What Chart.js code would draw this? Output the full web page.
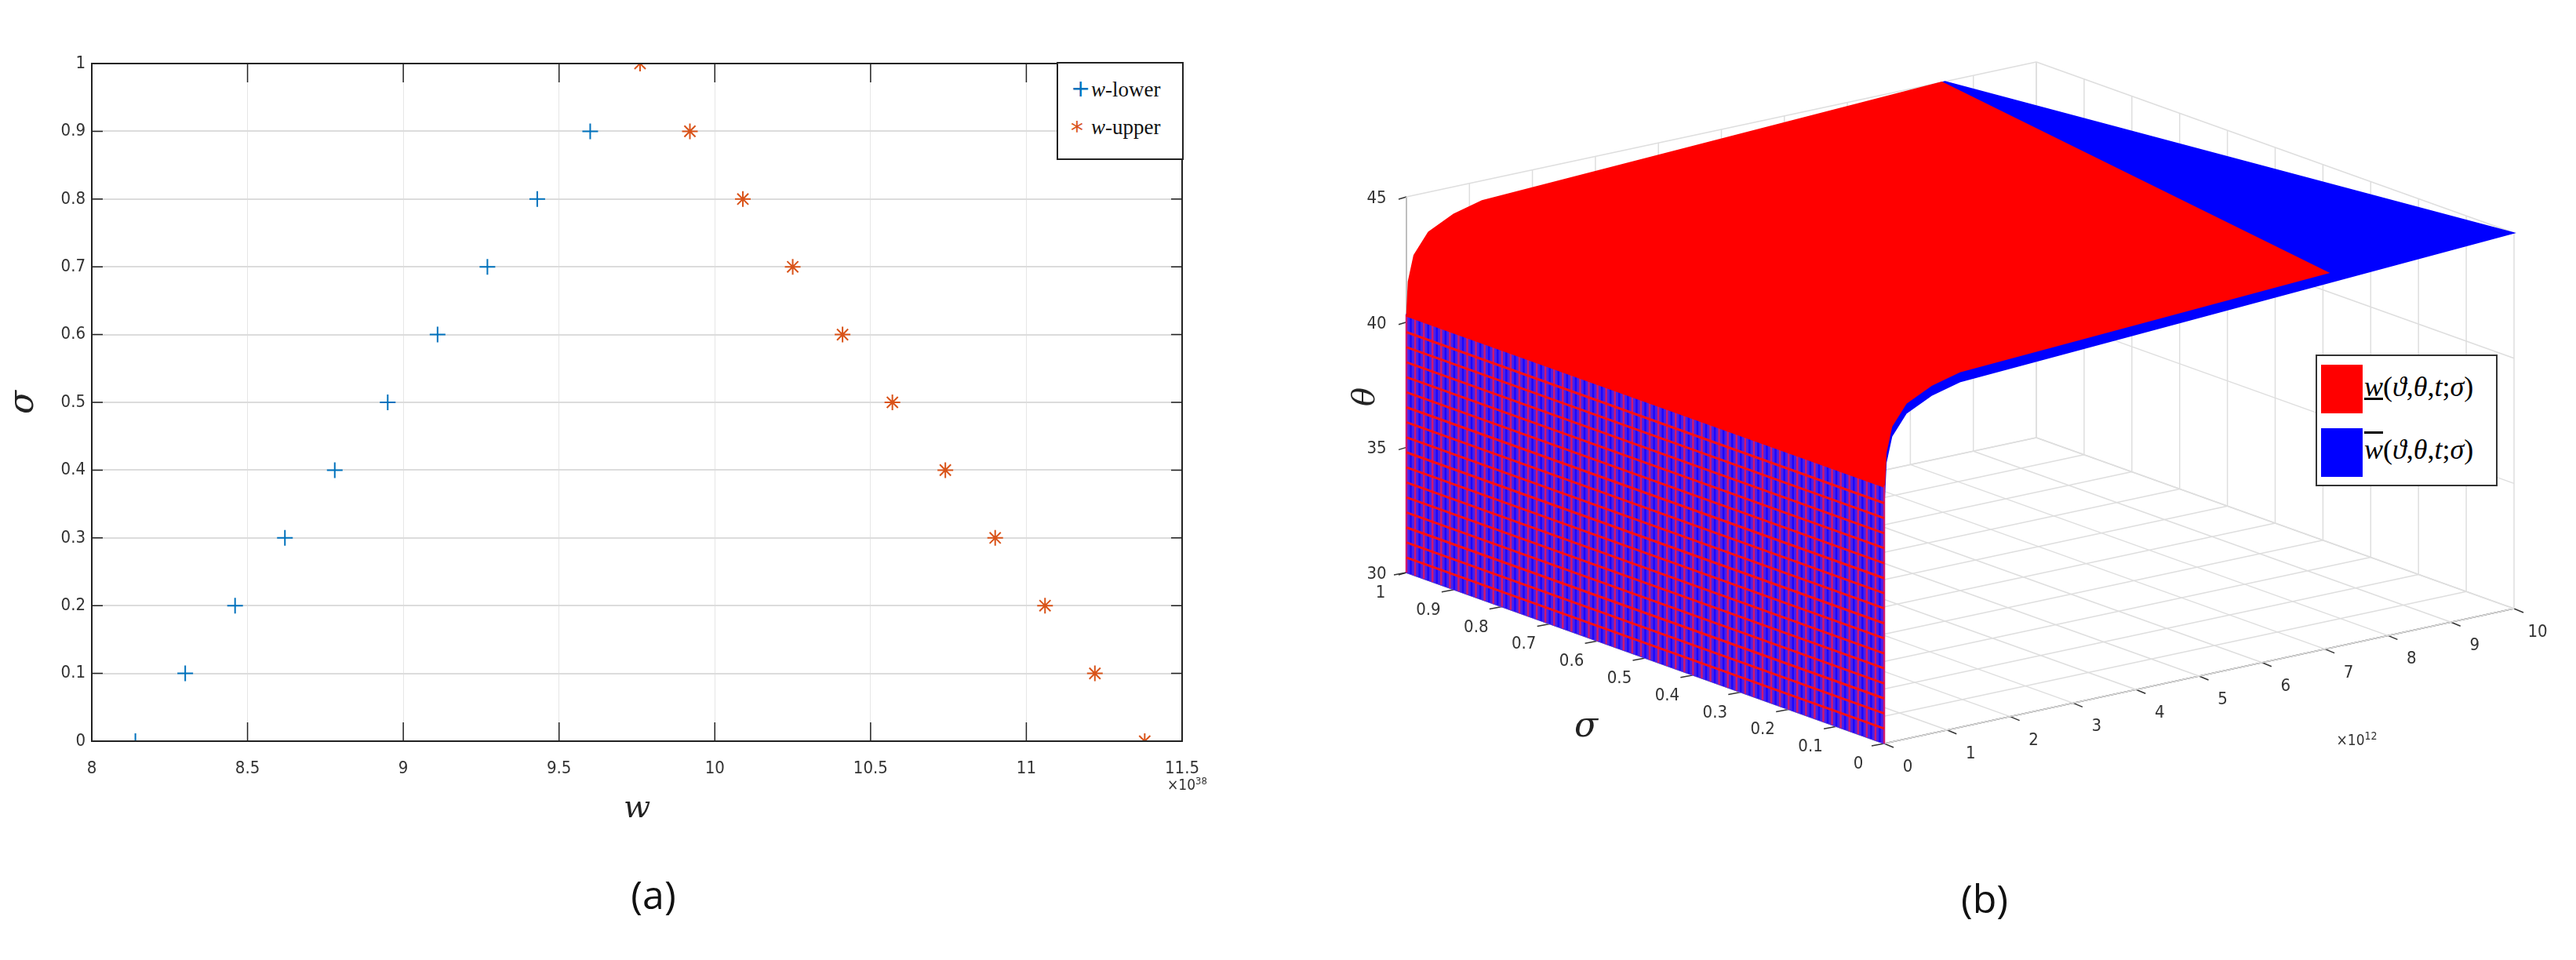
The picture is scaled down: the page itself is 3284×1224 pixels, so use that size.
<!DOCTYPE html>
<html><head><meta charset="utf-8">
<script src="https://cdn.jsdelivr.net/npm/chart.js@4.4.0/dist/chart.umd.min.js"></script>
<style>
html,body{margin:0;padding:0;background:#fff;width:3284px;height:1224px;overflow:hidden;position:relative;font-family:"Liberation Sans Narrow","DejaVu Sans Condensed",sans-serif}
#wa{position:absolute;left:0;top:0;width:1600px;height:1060px}
#wb{position:absolute;left:1700px;top:0;width:1584px;height:1224px}
.lbl{position:absolute;white-space:nowrap}
.m{font-family:"DejaVu Serif","Liberation Serif",serif;font-style:italic}
.cap{position:absolute;font-family:"Open Sans","Noto Sans",sans-serif;font-size:50px;color:#111;transform:translate(-50%,-50%)}
.tk{position:absolute;font-size:22px;color:#333;transform:translate(-50%,-50%);font-family:"Liberation Sans Narrow","DejaVu Sans Condensed",sans-serif}
</style></head><body>
<div id="wa"><canvas id="ca"></canvas></div>
<div id="wb"><canvas id="cb"></canvas></div>
<div class="cap" style="left:833px;top:1140px">(a)</div>
<div class="cap" style="left:2530px;top:1145px">(b)</div>
<div class="lbl" style="left:1488px;top:988px;font-size:19px;color:#333">×10<sup style="font-size:13px">38</sup></div>
<div class="lbl" style="left:1347px;top:79px;width:158px;height:121px;border:2px solid #222;background:#fff;font-family:'Liberation Serif',serif;font-size:27px;color:#111">
 <div style="position:absolute;left:16px;top:14px;color:#0072BD;font-size:30px;font-family:'DejaVu Sans'">+</div>
 <div style="position:absolute;left:42px;top:18px"><span class="m" style="font-family:'Liberation Serif'">w</span>-lower</div>
 <div style="position:absolute;left:16px;top:66px;color:#D95319;font-size:32px;font-family:'DejaVu Sans'">*</div>
 <div style="position:absolute;left:42px;top:66px"><span class="m" style="font-family:'Liberation Serif'">w</span>-upper</div>
</div>
<div class="lbl" style="left:2952px;top:452px;width:228px;height:164px;border:2px solid #333;background:#fff">
 <div style="position:absolute;left:5px;top:11px;width:53px;height:62px;background:#ff0000"></div>
 <div style="position:absolute;left:5px;top:92px;width:53px;height:62px;background:#0000ff"></div>
 <div class="m" style="position:absolute;left:60px;top:18px;font-size:36px;font-family:'Liberation Serif',serif"><span style="text-decoration:underline">w</span><span style="font-style:normal">(</span>ϑ<span style="font-style:normal">,</span>θ<span style="font-style:normal">,</span>t<span style="font-style:normal">;</span>σ<span style="font-style:normal">)</span></div>
 <div class="m" style="position:absolute;left:60px;top:98px;font-size:36px;font-family:'Liberation Serif',serif"><span style="text-decoration:overline">w</span><span style="font-style:normal">(</span>ϑ<span style="font-style:normal">,</span>θ<span style="font-style:normal">,</span>t<span style="font-style:normal">;</span>σ<span style="font-style:normal">)</span></div>
</div>
<script>
// ---- panel (a) data ----
const sigmaLower = [0,0.1,0.2,0.3,0.4,0.5,0.6,0.7,0.8,0.9];
const wLower = [8.14,8.30,8.46,8.62,8.78,8.95,9.11,9.27,9.43,9.60];
const sigmaUpper = [1,0.9,0.8,0.7,0.6,0.5,0.4,0.3,0.2,0.1,0];
const wUpper = [9.76,9.92,10.09,10.25,10.41,10.57,10.74,10.90,11.06,11.22,11.38];
const xTicksA = [8,8.5,9,9.5,10,10.5,11,11.5];
const yTicksA = [0,0.1,0.2,0.3,0.4,0.5,0.6,0.7,0.8,0.9,1];
// ---- panel (b) data ----
const thetaTicks = [30,35,40,45];
const sigmaTicks = [0,0.1,0.2,0.3,0.4,0.5,0.6,0.7,0.8,0.9,1];
const tTicks = [0,1,2,3,4,5,6,7,8,9,10];
const profT = [0,0.03,0.12,0.35,0.75,1.2];
const profTheta = [40,41.6,42.6,43.4,43.9,44.2];
const topTheta = 45;
const redEnd = {s1:8.5, s0:7.05};
const blueEnd = {s1:8.55, s0:10};
const wallTop = 40;
const wallLevels = [30.6,31.2,31.8,32.4,33.0,33.6,34.2,34.8,35.4,36.0,36.6,37.2,37.8,38.4,39.0,39.6];

Chart.defaults.animation = false;
const tickFont = {family:"'Liberation Sans Narrow','DejaVu Sans Condensed',sans-serif", size:22};

new Chart(document.getElementById('ca'), {
  type:'scatter',
  data:{datasets:[
    {label:'w-lower', data:wLower.map((w,i)=>({x:w,y:sigmaLower[i]})), pointStyle:'cross', radius:10, borderColor:'#0072BD', borderWidth:2},
    {label:'w-upper', data:wUpper.map((w,i)=>({x:w,y:sigmaUpper[i]})), pointStyle:'star', radius:10, borderColor:'#D95319', borderWidth:2}
  ]},
  options:{responsive:true, maintainAspectRatio:false,
    layout:{padding:{left:0,right:93,top:81,bottom:0}},
    plugins:{legend:{display:false}, tooltip:{enabled:false}},
    scales:{
      x:{type:'linear', min:8, max:11.5, afterBuildTicks:s=>{s.ticks=xTicksA.map(v=>({value:v}))},
        afterFit:s=>{s.height=115},
        grid:{color:'#e6e6e6', drawTicks:false, lineWidth:1}, border:{color:'#222', width:2},
        ticks:{padding:22, color:'#333', font:tickFont, callback:v=>String(v)},
        title:{display:true, text:'w', color:'#222', font:{family:"'DejaVu Serif',serif", style:'italic', size:40}, padding:{top:0}}},
      y:{type:'linear', min:0, max:1, afterBuildTicks:s=>{s.ticks=yTicksA.map(v=>({value:v}))},
        afterFit:s=>{s.width=117},
        grid:{color:'#dcdcdc', drawTicks:false, lineWidth:2}, border:{color:'#222', width:2},
        ticks:{padding:8, color:'#333', font:tickFont, callback:v=>String(v)},
        title:{display:true, text:'σ', color:'#222', font:{family:"'DejaVu Serif',serif", style:'italic', size:44}}}
    }
  },
  plugins:[{id:'frame', afterDraw(c){const a=c.chartArea,x=c.ctx;x.save();x.strokeStyle='#222';x.lineWidth=2;x.strokeRect(a.left,a.top,a.right-a.left,a.bottom-a.top);
    x.lineWidth=1.5;const xs=c.scales.x,ys=c.scales.y;
    xTicksA.forEach(v=>{const p=xs.getPixelForValue(v);x.beginPath();x.moveTo(p,a.bottom);x.lineTo(p,a.bottom-24);x.moveTo(p,a.top);x.lineTo(p,a.top+24);x.stroke();});
    yTicksA.forEach(v=>{const p=ys.getPixelForValue(v);x.beginPath();x.moveTo(a.left,p);x.lineTo(a.left+14,p);x.moveTo(a.right,p);x.lineTo(a.right-14,p);x.stroke();});
    x.restore();}}]
});

// ---- panel (b): projected 3D ----
const O={x:1793,y:730}, SX=609, SY=218, TX=80.3, TY=-17.2, ZY=-31.93, OFFX=1700;
function P(s,t,th){return {x:O.x-OFFX+(1-s)*SX+t*TX, y:O.y+(1-s)*SY+t*TY+(th-30)*ZY};}
const ds=[];
function seg(pts,color,w){ds.push({data:pts,showLine:true,borderColor:color,borderWidth:w,pointRadius:0,fill:false});}
const g='#dedede';
tTicks.forEach(t=>seg([P(0,t,30),P(1,t,30)],g,1.5));
sigmaTicks.forEach(s=>seg([P(s,0,30),P(s,10,30)],g,1.5));
tTicks.forEach(t=>seg([P(1,t,30),P(1,t,45)],g,1.5));
thetaTicks.forEach(th=>seg([P(1,0,th),P(1,10,th)],g,1.5));
sigmaTicks.forEach(s=>seg([P(s,10,30),P(s,10,45)],g,1.5));
thetaTicks.forEach(th=>seg([P(0,10,th),P(1,10,th)],g,1.5));
const ax='#333';
seg([P(1,0,30),P(1,0,45)],ax,1.5);
seg([P(1,0,30),P(0,0,30)],ax,1.5);
seg([P(0,0,30),P(0,10,30)],ax,1.5);
thetaTicks.forEach(th=>{const p=P(1,0,th);seg([p,{x:p.x-10,y:p.y+3}],ax,1.5);});
sigmaTicks.forEach(s=>{const p=P(s,0,30);seg([p,{x:p.x-16,y:p.y+3}],ax,1.5);});
tTicks.forEach(t=>{const p=P(0,t,30);seg([p,{x:p.x+12,y:p.y+5}],ax,1.5);});

// surfaces as polygon list (drawn in order through the chart scales)
const shapes=[];
function surf(endS1,endS0,color,drop){
  const a=[],b=[];
  profT.forEach((t,i)=>a.push(P(1,t,profTheta[i]-drop)));
  a.push(P(1,endS1,topTheta));
  b.push(P(0,endS0,topTheta));
  for(let i=profT.length-1;i>=0;i--) b.push(P(0,profT[i],profTheta[i]-drop));
  shapes.push({type:'poly',pts:a.concat(b),color});
}
surf(blueEnd.s1,blueEnd.s0,'#0000ff',0.4);
surf(redEnd.s1,redEnd.s0,'#ff0000',0);
shapes.push({type:'poly',pts:[P(1,0,30),P(0,0,30),P(0,0,wallTop+0.3),P(1,0,wallTop+0.3)],color:'#4a22e8'});
for(let k=0;k<=110;k++){const s=k/110;shapes.push({type:'line',pts:[P(s,0,30),P(s,0,wallTop+0.3)],color:k%2?'#1a08ff':'#d01870',w:2.5});}
wallLevels.forEach(th=>shapes.push({type:'line',pts:[P(1,0,th),P(0,0,th)],color:'#ff1010',w:3}));
shapes.push({type:'line',pts:[P(1,0,wallTop+0.3),P(0,0,wallTop+0.3)],color:'#ff0000',w:5});

new Chart(document.getElementById('cb'), {
  type:'scatter', data:{datasets:ds},
  options:{responsive:true, maintainAspectRatio:false, layout:{padding:0},
    plugins:{legend:{display:false}, tooltip:{enabled:false}},
    scales:{x:{type:'linear',min:0,max:1584,display:false},y:{type:'linear',min:0,max:1224,reverse:true,display:false}}},
  plugins:[{id:'surfaces', afterDatasetsDraw(c){
    const xs=c.scales.x, ys=c.scales.y, x=c.ctx; x.save();
    shapes.forEach(sh=>{x.beginPath();sh.pts.forEach((p,i)=>{const px=xs.getPixelForValue(p.x),py=ys.getPixelForValue(p.y);i?x.lineTo(px,py):x.moveTo(px,py);});
      if(sh.type==='poly'){x.closePath();x.fillStyle=sh.color;x.fill();x.strokeStyle=sh.color;x.lineWidth=1.5;x.stroke();}
      else{x.strokeStyle=sh.color;x.lineWidth=sh.w;x.stroke();}});
    x.restore();
  }, afterRender(c){
    if(c._lbl) return; c._lbl=true;
    const xs=c.scales.x, ys=c.scales.y, host=document.body;
    function put(txt,p,dx,dy,cls,style){const d=document.createElement('div');d.className=cls||'tk';d.innerHTML=txt;
      d.style.left=(OFFX+xs.getPixelForValue(p.x)+dx)+'px';d.style.top=(ys.getPixelForValue(p.y)+dy)+'px';if(style)d.style.cssText+=style;host.appendChild(d);}
    thetaTicks.forEach(th=>put(String(th),P(1,0,th),-38,0));
    sigmaTicks.forEach(s=>put(String(s),P(s,0,30),-33,24));
    tTicks.forEach(t=>put(String(t),P(0,t,30),30,28));
    put('×10<sup style="font-size:14px">12</sup>',P(0,8.5,30),-80,140,'tk','font-size:19px');
    put('σ',P(0.55,0,30),-45,95,'tk m','font-size:44px;color:#222;font-family:"DejaVu Serif",serif;font-style:italic');
    put('θ',P(1,0,37),-55,0,'tk m','font-size:40px;color:#222;font-family:"DejaVu Serif",serif;font-style:italic;transform:translate(-50%,-50%) rotate(-90deg)');
  }}]
});
</script>
</body></html>
